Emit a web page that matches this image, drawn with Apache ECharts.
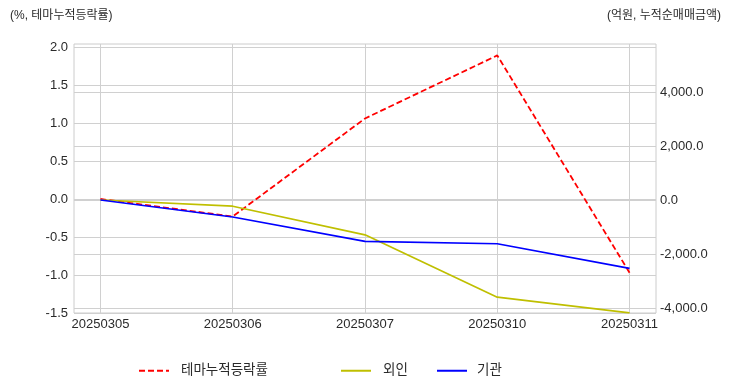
<!DOCTYPE html>
<html>
<head>
<meta charset="utf-8">
<script src="https://cdn.jsdelivr.net/npm/echarts@6/dist/echarts.min.js"></script>
<style>
html,body{margin:0;padding:0;background:#fff;}
#c{width:732px;height:392px;}
</style>
</head>
<body>
<div id="c"></div>
<script>
// ---- data ----
const dates = ['20250305', '20250306', '20250307', '20250310', '20250311'];
const themeReturn = [0.0, -0.23, 1.06, 1.89, -0.97];          // % (left axis)
const foreignNet = [0, -230, -1290, -3600, -4180];            // 억원 (right axis)
const instNet = [0, -630, -1530, -1620, -2530];               // 억원 (right axis)
const leftTicks = [-1.5, -1.0, -0.5, 0.0, 0.5, 1.0, 1.5, 2.0];
const rightTicks = [-4000, -2000, 0, 2000, 4000];
const seriesNames = ['테마누적등락률', '외인', '기관'];

const FONT = '"Liberation Sans", "Noto Sans CJK KR", sans-serif';
const idx = dates.map((d, i) => i);
const pairs = arr => arr.map((v, i) => [i, v]);
function fmtThousands(v) {
  const neg = v < 0;
  const s = Math.abs(v).toFixed(1);
  const [ip, dp] = s.split('.');
  const withC = ip.replace(/\B(?=(\d{3})+(?!\d))/g, ',');
  return (neg ? '-' : '') + withC + '.' + dp;
}

const chart = echarts.init(document.getElementById('c'), null, {renderer: 'canvas'});
const gridLine = {show: true, lineStyle: {color: '#d0d0d0', width: 1}};
const labelStyle = {color: '#2a2a2a', fontSize: 13, fontFamily: FONT};
const legendBase = {top: 364, padding: 0, itemWidth: 30, itemHeight: 10, itemStyle: {opacity: 0}};

chart.setOption({
  animation: false,
  backgroundColor: '#fff',
  textStyle: {fontFamily: FONT},
  grid: {left: 74, right: 76, top: 44, bottom: 79, show: true, borderColor: '#cccccc', borderWidth: 1, backgroundColor: 'transparent'},
  graphic: [
    {type: 'text', left: 10, top: 10, style: {text: '(%, 테마누적등락률)', fill: '#2a2a2a', font: '12px ' + FONT}},
    {type: 'text', right: 11, top: 10, style: {text: '(억원, 누적순매매금액)', fill: '#2a2a2a', font: '12px ' + FONT}}
  ],
  legend: [
    Object.assign({left: 138, data: [seriesNames[0]], textStyle: {color: '#2a2a2a', fontSize: 13.5, fontFamily: FONT, padding: [0, 0, 0, 7]}}, legendBase),
    Object.assign({left: 340, data: [seriesNames[1]], textStyle: {color: '#2a2a2a', fontSize: 13.5, fontFamily: FONT, padding: [0, 0, 0, 7]}}, legendBase),
    Object.assign({left: 436, data: [seriesNames[2]], textStyle: {color: '#2a2a2a', fontSize: 13.5, fontFamily: FONT, padding: [0, 0, 0, 5]}}, legendBase)
  ],
  xAxis: {
    type: 'value', min: -0.2, max: 4.2,
    axisLine: {show: false},
    axisTick: {show: false, customValues: idx},
    axisLabel: Object.assign({customValues: idx, margin: 5, formatter: v => dates[Math.round(v)] || ''}, labelStyle),
    splitLine: gridLine
  },
  yAxis: [
    {
      type: 'value', min: -1.5, max: 2.04, position: 'left',
      axisLine: {show: false},
      axisTick: {show: false, customValues: leftTicks},
      axisLabel: Object.assign({customValues: leftTicks, margin: 6, formatter: v => v.toFixed(1)}, labelStyle),
      splitLine: gridLine
    },
    {
      type: 'value', min: -4185, max: 5778, position: 'right',
      axisLine: {show: false},
      axisTick: {show: false, customValues: rightTicks},
      axisLabel: Object.assign({customValues: rightTicks, margin: 4, formatter: v => fmtThousands(v)}, labelStyle),
      splitLine: gridLine
    }
  ],
  series: [
    {name: seriesNames[0], type: 'line', yAxisIndex: 0, data: pairs(themeReturn), showSymbol: false, symbol: 'none',
     lineStyle: {color: '#ff0000', width: 1.8, type: [6, 3]}, itemStyle: {color: '#ff0000'}, z: 1},
    {name: seriesNames[1], type: 'line', yAxisIndex: 1, data: pairs(foreignNet), showSymbol: false, symbol: 'none',
     lineStyle: {color: '#bfbf00', width: 1.7}, itemStyle: {color: '#bfbf00'}, z: 2},
    {name: seriesNames[2], type: 'line', yAxisIndex: 1, data: pairs(instNet), showSymbol: false, symbol: 'none',
     lineStyle: {color: '#0000ff', width: 1.7}, itemStyle: {color: '#0000ff'}, z: 3}
  ]
});
</script>
</body>
</html>
